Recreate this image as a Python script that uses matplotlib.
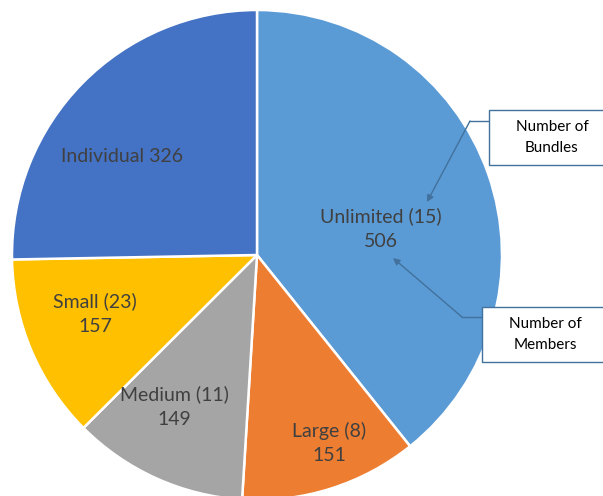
import matplotlib
matplotlib.use('Agg')
import matplotlib.pyplot as plt
from matplotlib.patches import Rectangle

plt.rcParams['font.family'] = ['Lato', 'DejaVu Sans']

# 数据
names = ['Unlimited', 'Large', 'Medium', 'Small', 'Individual']
bundles = [15, 8, 11, 23, None]
members = [506, 151, 149, 157, 326]
colors = ['#5B9BD5', '#ED7D31', '#A5A5A5', '#FFC000', '#4472C4']

W, H = 603, 496
fig = plt.figure(figsize=(W / 100, H / 100), dpi=100)
ax = fig.add_axes([0, 0, 1, 1])

# 饼图（像素坐标，y 向上）
cx, cy, r = 257, H - 255, 245
ax.pie(members, colors=colors, startangle=90, counterclock=False,
       center=(cx, cy), radius=r,
       wedgeprops=dict(edgecolor='white', linewidth=1.8))

# 标签位置
label_pos = [(381, 229), (329, 443), (174, 407), (95, 314), (122, 157)]
txt_color = '#404040'
for name, b, m, (x, y) in zip(names, bundles, members, label_pos):
    if b is None:
        s = name + ' ' + str(m)
    else:
        s = name + ' (' + str(b) + ')\n' + str(m)
    ax.text(x, H - y, s, ha='center', va='center', fontsize=14,
            color=txt_color, linespacing=1.55)

# 说明框和箭头
line_c = '#41719C'
boxes = [
    # 左, 上, 下, 文本, 折点, 箭头终点
    (489, 110, 165, 'Number of\nBundles', (470, 121), (427, 202)),
    (482, 307, 362, 'Number of\nMembers', (462, 317), (393, 258)),
]
for left, top, bot, s, knee, tip in boxes:
    ax.add_patch(Rectangle((left, H - bot), 200, bot - top, facecolor='white',
                           edgecolor=line_c, linewidth=1.0, zorder=5))
    ax.text(left + 63, H - (top + bot) / 2, s, ha='center', va='center',
            fontsize=11, color='black', linespacing=1.6, zorder=6)
    ax.plot([left, knee[0]], [H - knee[1], H - knee[1]], color=line_c, lw=1.0, zorder=4)
    ax.annotate('', xy=(tip[0], H - tip[1]), xytext=(knee[0], H - knee[1]),
                arrowprops=dict(arrowstyle='-|>', color=line_c, lw=1.0,
                                mutation_scale=10, shrinkA=0, shrinkB=0), zorder=4)

ax.set_xlim(0, W)
ax.set_ylim(0, H)
ax.set_aspect('equal')
ax.axis('off')

fig.savefig('out.png', dpi=100)
